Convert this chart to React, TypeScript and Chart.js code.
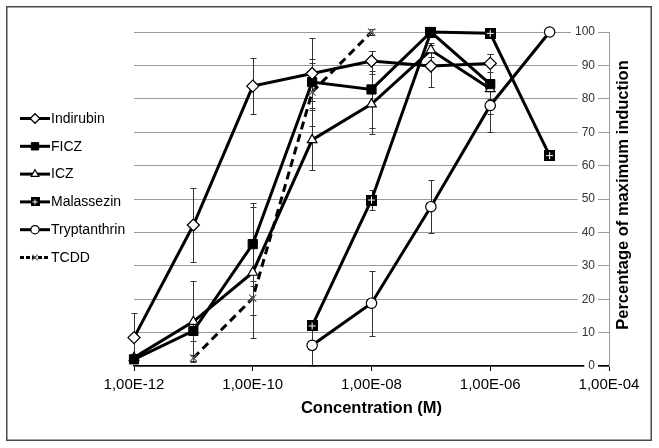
import React, { useEffect, useRef } from 'react';
import { Chart, registerables } from 'chart.js';
import { drawPoint } from 'chart.js/helpers';

Chart.register(...registerables);

const FONT = '"Liberation Sans", Arial, sans-serif';

// ---------- data ----------
const concentrations = [1e-12, 1e-11, 1e-10, 1e-9, 1e-8, 1e-7, 1e-6, 1e-5];
const xTickValues = [1e-12, 1e-10, 1e-8, 1e-6, 1e-4];

const seriesNames = ['Indirubin', 'FICZ', 'ICZ', 'Malassezin', 'Tryptanthrin', 'TCDD'];

const indirubin = [8.5, 42.2, 83.8, 87.6, 91.3, 89.8, 90.6, null];
const indirubinErr = [7.5, 11, 8.5, 10.5, 3, 6.4, 2.7, null];

const ficz = [2.0, 10.5, 36.5, 85, 82.8, 100, 84.4, null];
const ficzErr = [1, 3, 12.4, 5.8, 11.5, 1.5, 9, null];

const icz = [2.5, 13.3, 28, 67.7, 78.4, 94.6, 83, null];
const iczErr = [1, 12, 19.5, 9, 9, 2, 3, null];

const malassezin = [null, null, null, 12, 49.7, 100, 99.6, 63];
const malassezinErr = [null, null, null, 1, 3, 1, 1, 1];

const tryptanthrin = [null, null, null, 6.2, 18.8, 47.7, 78, 100];
const tryptanthrinErr = [null, null, null, 6.2, 9.7, 8, 8, 0];

const tcdd = [null, 2.4, 20.3, 82, 100, null, null, null];
const tcddErr = [null, 1, 5, 10, 1, null, null, null];

const seriesValues = [indirubin, ficz, icz, malassezin, tryptanthrin, tcdd];
const seriesErrors = [indirubinErr, ficzErr, iczErr, malassezinErr, tryptanthrinErr, tcddErr];

// ---------- helpers ----------
function makeHatchSquare(size: number): HTMLCanvasElement {
  const c = document.createElement('canvas');
  c.width = size;
  c.height = size;
  const g = c.getContext('2d')!;
  g.fillStyle = '#000';
  g.fillRect(0, 0, size, size);
  g.fillStyle = '#fff';
  const m = Math.floor(size / 2);
  g.fillRect(m, 2, 1, size - 4);
  g.fillRect(2, m, size - 4, 1);
  return c;
}

function fmtTick(v: number): string {
  const e = Math.round(Math.log10(v));
  const sign = e < 0 ? '-' : '+';
  return '1,00E' + sign + String(Math.abs(e)).padStart(2, '0');
}

export default function App() {
  const ref = useRef<HTMLCanvasElement | null>(null);

  useEffect(() => {
    if (!ref.current) return;
    const hatch = makeHatchSquare(11);
    const hatchSmall = makeHatchSquare(9);

    const styles: any[] = [
      { pointStyle: 'rectRot', pointRadius: 6, pointBackgroundColor: '#fff', pointBorderColor: '#000', pointBorderWidth: 1.3 },
      { pointStyle: 'rect', pointRadius: 6.5, pointBackgroundColor: '#000', pointBorderColor: '#000', pointBorderWidth: 1 },
      { pointStyle: 'triangle', pointRadius: 5.5, pointBackgroundColor: '#fff', pointBorderColor: '#000', pointBorderWidth: 1.2 },
      { pointStyle: hatch, pointRadius: 5, pointBackgroundColor: '#000', pointBorderColor: '#000', pointBorderWidth: 0, legendStyle: hatchSmall },
      { pointStyle: 'circle', pointRadius: 5.2, pointBackgroundColor: '#fff', pointBorderColor: '#000', pointBorderWidth: 1.2 },
      { pointStyle: 'crossRot', pointRadius: 5, pointBackgroundColor: '#666', pointBorderColor: '#666', pointBorderWidth: 1.2, borderDash: [8, 5] },
    ];

    const datasets = seriesNames.map((name, si) => {
      const st = styles[si];
      const pts = concentrations
        .map((x, i) => ({ x, y: seriesValues[si][i] }))
        .filter((p) => p.y !== null && p.y !== undefined);
      return {
        label: name,
        data: pts,
        borderColor: '#000',
        borderWidth: 3,
        borderDash: st.borderDash || [],
        pointStyle: st.pointStyle,
        pointRadius: st.pointRadius,
        pointBackgroundColor: st.pointBackgroundColor,
        pointBorderColor: st.pointBorderColor,
        pointBorderWidth: st.pointBorderWidth,
        tension: 0,
        fill: false,
        clip: false as any,
      };
    });

    const backgroundPlugin = {
      id: 'frame',
      beforeDraw(chart: any) {
        const ctx = chart.ctx;
        ctx.save();
        ctx.fillStyle = '#fff';
        ctx.fillRect(0, 0, chart.width, chart.height);
        ctx.restore();
      },
      afterDraw(chart: any) {
        const ctx = chart.ctx;
        ctx.save();
        ctx.strokeStyle = '#4a4a4a';
        ctx.lineWidth = 1.5;
        ctx.strokeRect(6.75, 6.75, 644.5, 433.5);
        ctx.restore();
      },
    };

    const errorBarPlugin = {
      id: 'errorBars',
      beforeDatasetsDraw(chart: any) {
        const { ctx } = chart;
        const xs = chart.scales.x;
        const ys = chart.scales.y;
        ctx.save();
        ctx.strokeStyle = '#333';
        ctx.lineWidth = 1;
        seriesValues.forEach((vals, si) => {
          vals.forEach((v, i) => {
            const e = seriesErrors[si][i];
            if (v === null || e === null || e === undefined) return;
            const px = Math.round(xs.getPixelForValue(concentrations[i])) + 0.5;
            const top = Math.round(ys.getPixelForValue(v + e)) + 0.5;
            const bot = Math.round(ys.getPixelForValue(Math.max(0, v - e))) + 0.5;
            ctx.beginPath();
            ctx.moveTo(px, top);
            ctx.lineTo(px, bot);
            ctx.moveTo(px - 3, top);
            ctx.lineTo(px + 3, top);
            ctx.moveTo(px - 3, bot);
            ctx.lineTo(px + 3, bot);
            ctx.stroke();
          });
        });
        ctx.restore();
      },
    };

    const legendPlugin = {
      id: 'sideLegend',
      afterDraw(chart: any) {
        const ctx = chart.ctx;
        chart.data.datasets.forEach((ds: any, i: number) => {
          const y = 118.5 + i * 27.8;
          const st = styles[i];
          ctx.save();
          ctx.strokeStyle = '#000';
          ctx.lineWidth = 3;
          ctx.setLineDash(i === 5 ? [4, 2] : []);
          ctx.beginPath();
          ctx.moveTo(20, y);
          ctx.lineTo(50, y);
          ctx.stroke();
          ctx.setLineDash([]);
          ctx.fillStyle = st.pointBackgroundColor;
          ctx.strokeStyle = st.pointBorderColor;
          ctx.lineWidth = st.pointBorderWidth;
          drawPoint(
            ctx,
            {
              pointStyle: st.legendStyle || st.pointStyle,
              radius: st.pointRadius * 0.8,
              rotation: 0,
              borderWidth: st.pointBorderWidth,
            } as any,
            35,
            y
          );
          ctx.fillStyle = '#000';
          ctx.font = '14px ' + FONT;
          ctx.textBaseline = 'middle';
          ctx.textAlign = 'left';
          ctx.fillText(ds.label, 51, y + 0.5);
          ctx.restore();
        });
      },
    };

    const yTitlePlugin = {
      id: 'yTitle',
      afterDraw(chart: any) {
        const ctx = chart.ctx;
        ctx.save();
        ctx.translate(623, 195);
        ctx.rotate(-Math.PI / 2);
        ctx.font = 'bold 16.5px ' + FONT;
        ctx.fillStyle = '#000';
        ctx.textAlign = 'center';
        ctx.textBaseline = 'middle';
        ctx.fillText('Percentage of maximum induction', 0, 0);
        ctx.restore();
      },
    };

    Chart.defaults.font.family = FONT;

    const chart = new Chart(ref.current, {
      type: 'line',
      data: { datasets: datasets as any },
      options: {
        animation: false,
        responsive: false,
        maintainAspectRatio: false,
        events: [],
        layout: { padding: { left: 134, top: 32, right: 0, bottom: 30 } },
        plugins: { legend: { display: false }, tooltip: { enabled: false } },
        scales: {
          x: {
            type: 'logarithmic',
            position: 'bottom',
            min: 1e-12,
            max: 1e-4,
            afterBuildTicks: (s: any) => {
              s.ticks = xTickValues.map((v) => ({ value: v }));
            },
            afterFit: (s: any) => {
              s.height = 52;
            },
            ticks: {
              callback: (v: any) => fmtTick(Number(v)),
              font: { size: 15, family: FONT },
              color: '#000',
              padding: 5,
              autoSkip: false,
              maxRotation: 0,
              minRotation: 0,
            },
            grid: { drawOnChartArea: false, drawTicks: true, tickLength: 5, color: '#000', lineWidth: 1 },
            border: { color: '#000', width: 1.5 },
            title: {
              display: true,
              text: 'Concentration (M)',
              font: { size: 16.5, weight: 'bold', family: FONT },
              color: '#000',
              padding: { top: 4, bottom: 0 },
            },
          } as any,
          y: {
            type: 'linear',
            position: 'right',
            min: 0,
            max: 100,
            afterFit: (s: any) => {
              s.width = 50;
            },
            ticks: {
              stepSize: 10,
              mirror: true,
              padding: -14,
              font: { size: 12, family: FONT },
              color: '#333',
              showLabelBackdrop: true,
              backdropColor: '#fff',
              backdropPadding: { left: 4, right: 3, top: 0, bottom: 0 },
            },
            grid: { color: '#9a9a9a', lineWidth: 1, drawTicks: false },
            border: { color: '#9a9a9a', width: 1 },
          } as any,
        },
      },
      plugins: [backgroundPlugin, errorBarPlugin, legendPlugin, yTitlePlugin],
    });

    return () => chart.destroy();
  }, []);

  return (
    <div style={{ position: 'fixed', left: 0, top: 0, width: 659, height: 448 }}>
      <canvas ref={ref} width={659} height={448} style={{ width: 659, height: 448, display: 'block' }} />
    </div>
  );
}
